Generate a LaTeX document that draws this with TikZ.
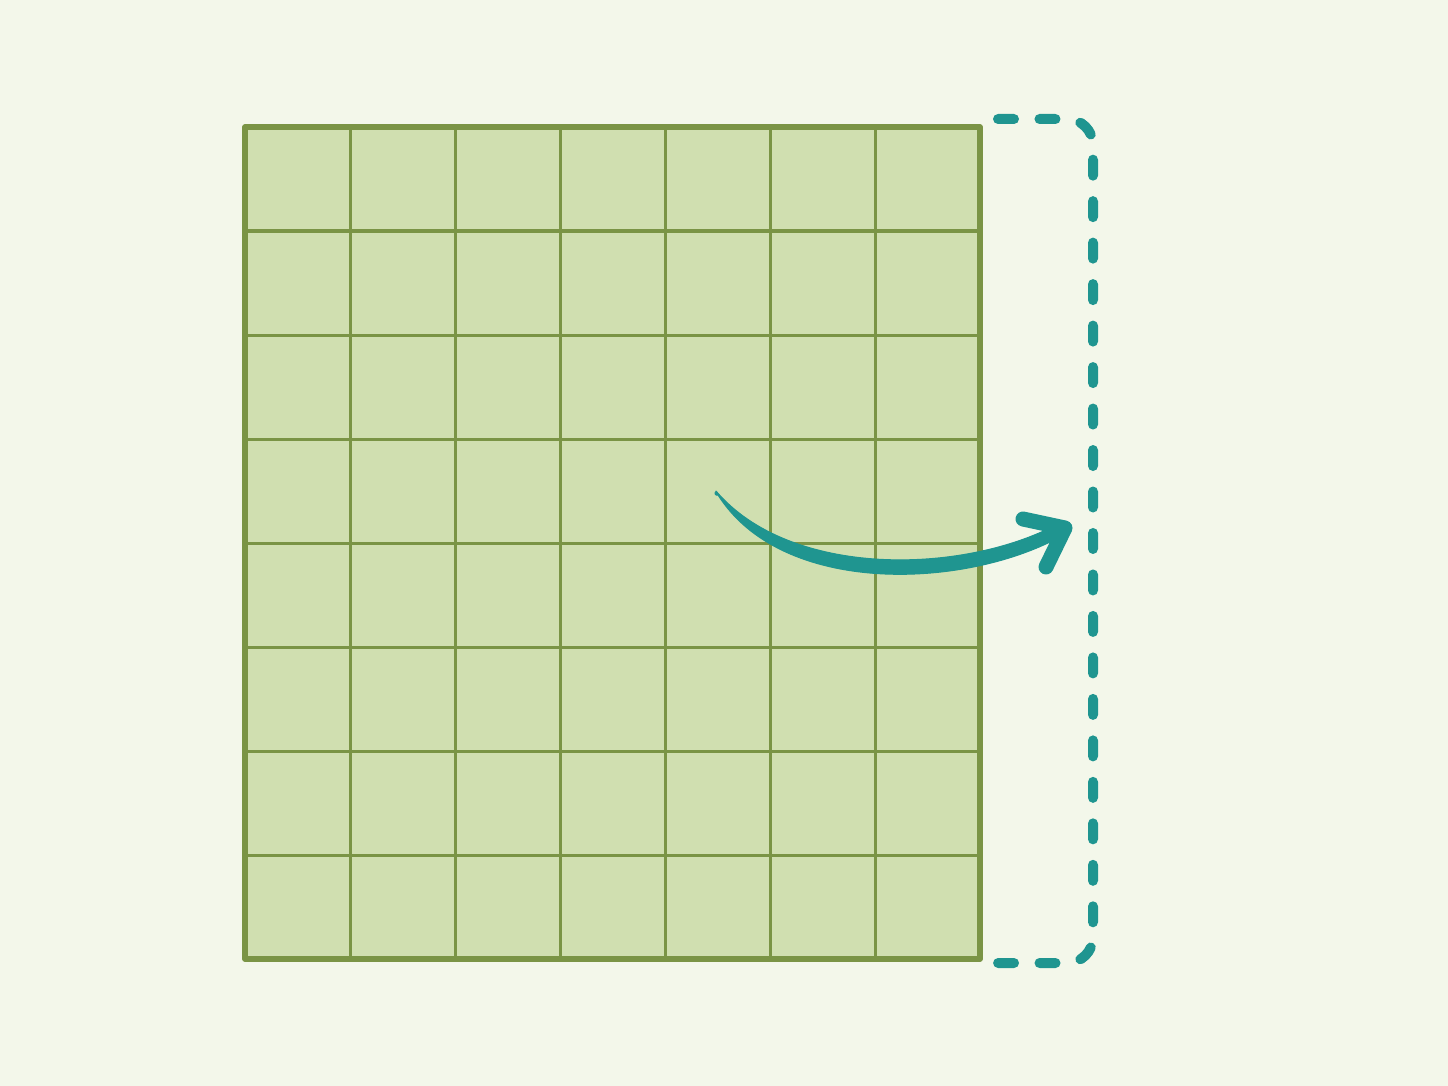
\documentclass[tikz,border=0pt]{standalone}
\begin{document}
\begin{tikzpicture}[x=1pt,y=-1pt,
  gridline/.style={draw=gridgreen,line width=3pt},
  gridborder/.style={draw=gridgreen,line width=5.5pt,line join=round},
  bracket/.style={draw=teal1,line width=10pt,line cap=round,dash pattern=on 16pt off 25.48pt,rounded corners=26pt},
  curvearrow/.style={fill=teal1,draw=teal1,line width=1pt,line join=round},
  arrowhead/.style={draw=teal1,line width=15pt,line cap=round,line join=round}]
\definecolor{bg}{HTML}{F3F7EA}
\definecolor{gridfill}{HTML}{D0DFB0}
\definecolor{gridgreen}{HTML}{7A9445}
\definecolor{teal1}{HTML}{1F9590}
\fill[bg] (0,0) rectangle (1448,1086);
\useasboundingbox (0,0) rectangle (1448,1086);
\fill[gridfill] (245,127) rectangle (980,959);
\foreach \i in {1,...,6} \draw[gridline] (245+105*\i,127) -- (245+105*\i,959);
\foreach \j in {1,...,7} \draw[gridline] (245,127+104*\j) -- (980,127+104*\j);
\draw[gridborder] (245,127) rectangle (980,959);
\draw[bracket] (998,119) -- (1093,119) -- (1093,963) -- (998,963);
\path[curvearrow] (716,491) .. controls (790,578) and (962,575) .. (1058,524)
  -- (1058,538) .. controls (962,589) and (782,596) .. (718,495)
  arc[start angle=-60,end angle=-240,radius=2pt] -- cycle;
\draw[arrowhead] (1023,519) -- (1065,528) -- (1046,567);
\end{tikzpicture}
\end{document}
